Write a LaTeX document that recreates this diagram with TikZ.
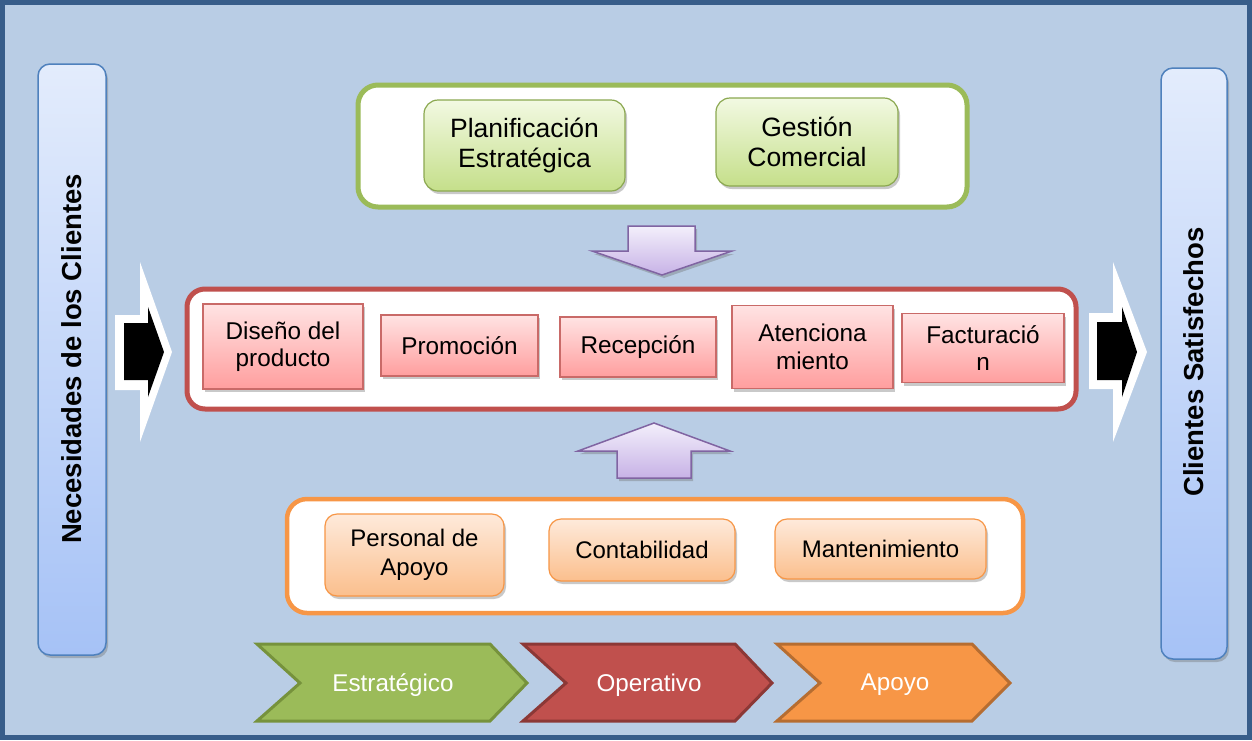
\documentclass[tikz,border=0pt]{standalone}
\usepackage{fontspec}
\setmainfont{Liberation Sans}
\usetikzlibrary{shadows}
\definecolor{bg}{HTML}{B9CDE5}
\definecolor{frameblue}{HTML}{385D8A}
\definecolor{pilltop}{HTML}{E3ECFC}
\definecolor{pillbot}{HTML}{A6C2F6}
\definecolor{pilledge}{HTML}{4F81BD}
\definecolor{grn}{HTML}{9BBB59}
\definecolor{grndark}{HTML}{76923C}
\definecolor{grntop}{HTML}{F2F9E2}
\definecolor{grnbot}{HTML}{C5DF8A}
\definecolor{rd}{HTML}{C0504D}
\definecolor{rddark}{HTML}{8C3836}
\definecolor{rdtop}{HTML}{FFE3E3}
\definecolor{rdbot}{HTML}{FF9E9E}
\definecolor{org}{HTML}{F79646}
\definecolor{orgdark}{HTML}{B66D31}
\definecolor{orgtop}{HTML}{FEEADB}
\definecolor{orgbot}{HTML}{FBBF8D}
\definecolor{purp}{HTML}{8064A2}
\definecolor{purtop}{HTML}{F3EFFB}
\definecolor{purbot}{HTML}{C7B2E6}
\tikzset{
  boxshadow/.style={drop shadow={shadow xshift=2pt, shadow yshift=-3pt, opacity=0.35, fill=black!60}},
  pillar/.style={rounded corners=12pt, draw=pilledge, line width=1.5pt, top color=pilltop, bottom color=pillbot, boxshadow},
  sidetext/.style={rotate=90, font=\bfseries\fontsize{27.5}{31}\selectfont},
  container/.style={rounded corners=20pt, fill=white, line width=5pt},
  gbox/.style={rounded corners=14pt, draw=grn!90!black, line width=1.2pt, top color=grntop, bottom color=grnbot, boxshadow, align=center, font=\fontsize{26.5}{29.5}\selectfont},
  rbox/.style={draw=rd!85!white, line width=1.2pt, top color=rdtop, bottom color=rdbot, boxshadow, align=center, font=\fontsize{24.3}{27.5}\selectfont},
  obox/.style={rounded corners=12pt, draw=org, line width=1.2pt, top color=orgtop, bottom color=orgbot, boxshadow, align=center, font=\fontsize{24}{28.5}\selectfont},
  blockarrow/.style={draw=purp, line width=1.5pt, top color=purtop, bottom color=purbot, boxshadow},
  chev/.style={line width=3pt, line join=miter},
  chevtext/.style={text=white, font=\fontsize{24.2}{28}\selectfont}
}
\begin{document}
\begin{tikzpicture}[x=1pt,y=-1pt]
\useasboundingbox (0,0) rectangle (1252,740);
\fill[bg] (0,0) rectangle (1252,740);
\draw[frameblue, line width=5pt] (2.5,2.5) rectangle (1249.5,737.5);

% side pillars
\node[pillar, minimum width=68, minimum height=591, inner sep=0pt] (need) at (72,359.5) {};
\node[sidetext] (needtxt) at (72,359) {Necesidades de los Clientes};
\node[pillar, minimum width=66, minimum height=591, inner sep=0pt] (sat) at (1194,363.5) {};
\node[sidetext] (sattxt) at (1194,362) {Clientes Satisfechos};

% white/black arrows
\fill[white] (115,315) -- (140,315) -- (140,262) -- (172,352) -- (140,442) -- (140,390) -- (115,390) -- cycle;
\fill[black] (124,323) -- (148,323) -- (148,307) -- (164,352) -- (148,397) -- (148,380) -- (124,380) -- cycle;
\fill[white] (1089,313) -- (1113,313) -- (1113,262) -- (1147,352) -- (1113,442) -- (1113,389) -- (1089,389) -- cycle;
\fill[black] (1097,322) -- (1122,322) -- (1122,307) -- (1137,352) -- (1122,397) -- (1122,380) -- (1097,380) -- cycle;

% strategic container
\draw[container, draw=grn] (358,85) rectangle (967,207);
\node[gbox, minimum width=201, minimum height=91] (plan) at (524.5,145.5) {Planificación\\Estratégica};
\node[gbox, minimum width=182, minimum height=88] (gest) at (807,142) {Gestión\\Comercial};

% down arrow
\draw[blockarrow] (628,226) -- (695,226) -- (695,251) -- (732,251) -- (662,275) -- (592,251) -- (628,251) -- cycle;

% operative container
\draw[container, draw=rd, rounded corners=18pt] (187,289) rectangle (1076,409);
\node[rbox, minimum width=160, minimum height=85] (dis) at (283,346.5) {Diseño del\\producto};
\node[rbox, minimum width=157, minimum height=61] (prom) at (459.5,345.5) {Promoción};
\node[rbox, minimum width=156, minimum height=60] (rec) at (638,347) {Recepción};
\node[rbox, minimum width=161, minimum height=83] (aten) at (812.5,347) {Atenciona\\miento};
\node[rbox, minimum width=162, minimum height=69] (fact) at (983,348) {Facturació\\n};

% up arrow
\draw[blockarrow] (617,478) -- (617,451) -- (578,451) -- (654,423) -- (730,451) -- (691,451) -- (691,478) -- cycle;

% support container
\draw[container, draw=org, line width=4.5pt] (287,499) rectangle (1023,613);
\node[obox, minimum width=179, minimum height=82] (pers) at (414.5,555) {Personal de\\Apoyo};
\node[obox, minimum width=186, minimum height=62] (cont) at (642,550) {Contabilidad};
\node[obox, minimum width=211, minimum height=60] (mant) at (880.5,549) {Mantenimiento};

% chevrons
\draw[chev, fill=grn, draw=grndark] (257,644) -- (490,644) -- (527,683) -- (490,721) -- (257,721) -- (300,683) -- cycle;
\node[chevtext] (est) at (393,685) {Estratégico};
\draw[chev, fill=rd, draw=rddark] (523,644) -- (735,644) -- (772,683) -- (735,721) -- (523,721) -- (566,683) -- cycle;
\node[chevtext] (ope) at (649,685) {Operativo};
\draw[chev, fill=org, draw=orgdark] (777,644) -- (972,644) -- (1010,683) -- (972,721) -- (777,721) -- (820,683) -- cycle;
\node[chevtext] (apo) at (895,685) {Apoyo};
\end{tikzpicture}
\end{document}
